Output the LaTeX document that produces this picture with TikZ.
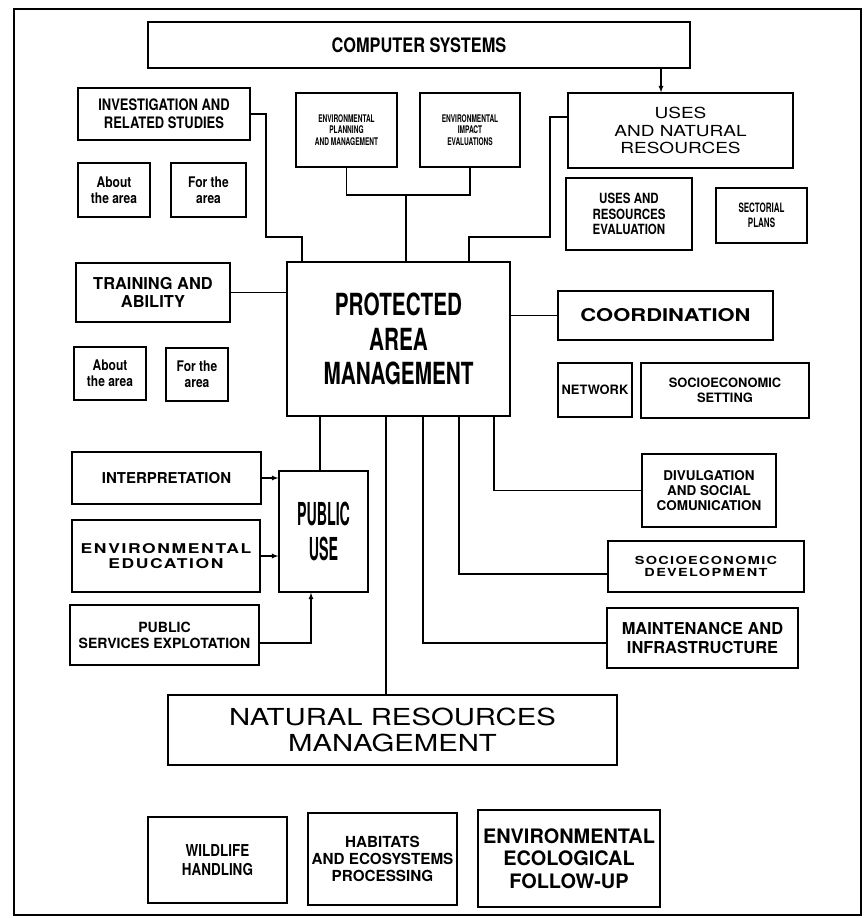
\documentclass[tikz,border=0pt]{standalone}
\usepackage{fontspec}
\setmainfont{TeX Gyre Heros}
\newfontfamily\cond[FakeStretch=0.82]{TeX Gyre Heros}
\newfontfamily\tight[FakeStretch=0.68]{TeX Gyre Heros}
\newfontfamily\narrow[FakeStretch=0.62]{TeX Gyre Heros}
\newfontfamily\xnarrow[FakeStretch=0.45]{TeX Gyre Heros}
\newfontfamily\wide[FakeStretch=1.25]{TeX Gyre Heros}
\newfontfamily\xwide[FakeStretch=1.3,LetterSpace=12]{TeX Gyre Heros}
\newcommand{\setfs}[1]{\fontsize{#1}{\fpeval{1.12*#1}}\selectfont}
\usetikzlibrary{arrows}

\tikzset{
  box/.style={draw, line width=1.1pt, align=center, inner sep=1pt},
  sz/.style 2 args={minimum width=#1*0.03cm, minimum height=#2*0.03cm},
  link/.style={line width=0.9pt},
}

\begin{document}
\begin{tikzpicture}[x=0.03cm,y=-0.03cm]
	  \useasboundingbox (0,0) rectangle (866,918);
	  % outer frame
	  \draw [line width=2.4pt] (14,9) rectangle (861,915);
	  % top row
	  \node (cs) [box,sz={542}{46},font=\cond\bfseries\setfs{17}] at (419,45) {COMPUTER SYSTEMS};
	  \node (inv) [box,sz={172}{52},font=\cond\bfseries\setfs{13.5}] at (164,114) {INVESTIGATION AND\\RELATED STUDIES};
	  \node (about1) [box,sz={72}{54},font=\cond\bfseries\setfs{12.5}] at (114,190) {About\\the area};
	  \node (for1) [box,sz={75}{54},font=\cond\bfseries\setfs{12.5}] at (208.5,190) {For the\\area};
	  \node (epm) [box,sz={101}{74},font=\narrow\bfseries\setfs{9}] at (346.5,130) {ENVIRONMENTAL\\PLANNING\\AND MANAGEMENT};
	  \node (eie) [box,sz={100}{74},font=\narrow\bfseries\setfs{9}] at (470,130) {ENVIRONMENTAL\\IMPACT\\EVALUATIONS};
	  \node (unr) [box,sz={225}{75},font=\wide\setfs{13}] at (680.5,130.5) {USES\\AND NATURAL\\RESOURCES};
	  \node (ure) [box,sz={126}{72},font=\cond\bfseries\setfs{12}] at (629,214) {USES AND\\RESOURCES\\EVALUATION};
	  \node (sect) [box,sz={91}{55},font=\narrow\bfseries\setfs{11}] at (761.5,215.5) {SECTORIAL\\PLANS};
	  % middle
	  \node (train) [box,sz={154}{59},font=\bfseries\setfs{14}] at (153,292.5) {TRAINING AND\\ABILITY};
	  \node (about2) [box,sz={72}{53},font=\cond\bfseries\setfs{12.5}] at (110,373.5) {About\\the area};
	  \node (for2) [box,sz={62}{53},font=\cond\bfseries\setfs{12.5}] at (197,374.5) {For the\\area};
	  \node (pam) [box,sz={223}{154},font=\tight\bfseries\setfs{26}] at (398.5,339) {PROTECTED\\AREA\\MANAGEMENT};
	  \node (coord) [box,sz={215}{49},font=\wide\bfseries\setfs{15}] at (665.5,315.5) {COORDINATION};
	  \node (net) [box,sz={74}{54},font=\bfseries\setfs{11}] at (595,390) {NETWORK};
	  \node (sset) [box,sz={168}{55},font=\bfseries\setfs{11}] at (725,390.5) {SOCIOECONOMIC\\SETTING};
	  % public use
	  \node (pu) [box,sz={89}{121},font=\xnarrow\bfseries\setfs{27}] at (323.5,531.5) {PUBLIC\\USE};
	  \node (interp) [box,sz={189}{52},font=\bfseries\setfs{12.8}] at (166.5,478) {INTERPRETATION};
	  \node (envedu) [box,sz={188}{72},font=\xwide\bfseries\setfs{11.5}] at (166,556) {ENVIRONMENTAL\\EDUCATION};
	  \node (pse) [box,sz={189}{60},font=\bfseries\setfs{12}] at (164.5,635) {PUBLIC\\SERVICES EXPLOTATION};
	  % right column
	  \node (div) [box,sz={134}{73},font=\bfseries\setfs{11.5}] at (709,490.5) {DIVULGATION\\AND SOCIAL\\COMUNICATION};
	  \node (sdev) [box,sz={196}{51},font=\xwide\bfseries\setfs{9.5}] at (706,566.5) {SOCIOECONOMIC\\DEVELOPMENT};
	  \node (maint) [box,sz={191}{60},font=\bfseries\setfs{14}] at (702.5,638) {MAINTENANCE AND\\INFRASTRUCTURE};
	  % bottom
	  \node (nrm) [box,sz={449}{70},font=\wide\setfs{20}] at (392.5,730) {NATURAL RESOURCES\\MANAGEMENT};
	  \node (wild) [box,sz={139}{86},font=\cond\bfseries\setfs{14}] at (217.5,860) {WILDLIFE\\HANDLING};
	  \node (hab) [box,sz={149}{92},font=\bfseries\setfs{13}] at (382.5,859) {HABITATS\\AND ECOSYSTEMS\\PROCESSING};
	  \node (eef) [box,sz={182}{97},font=\bfseries\setfs{17}] at (569,858.5) {ENVIRONMENTAL\\ECOLOGICAL\\FOLLOW-UP};
	  % connectors to the central box
	  \coordinate (envjoin) at (406,195);
	  \draw [link] (inv.east) -| (266,237) -| (pam.north -| 302,0);
	  \draw [link] (epm.south) |- (envjoin) -| (eie.south);
	  \draw [link] (envjoin) -- (envjoin |- pam.north);
	  \draw [link] (unr.west |- 0,117) -| (550,237) -| (pam.north -| 469,0);
	  \draw [link,-latex] (cs.south -| 661,0) -- (unr.north -| 661,0);
	  \draw [link] (train.east) -- (train.east -| pam.west);
	  \draw [link] (pam.east |- coord.west) -- (coord.west);
	  \draw [link] (pam.south -| 320,0) -- (pu.north -| 320,0);
	  \draw [link] (pam.south -| 386,0) -- (nrm.north -| 386,0);
	  \draw [link] (pam.south -| 423,0) |- (maint.west |- 0,643);
	  \draw [link] (pam.south -| 459,0) |- (sdev.west |- 0,574);
	  \draw [link] (pam.south -| 494,0) |- (div.west);
	  % public use inputs
	  \draw [link,-latex] (interp.east) -- (interp.east -| pu.west);
	  \draw [link,-latex] (envedu.east) -- (envedu.east -| pu.west);
	  \draw [link,-latex] (pse.east |- 0,643) -| (pu.south -| 311,0);
\end{tikzpicture}
\end{document}
